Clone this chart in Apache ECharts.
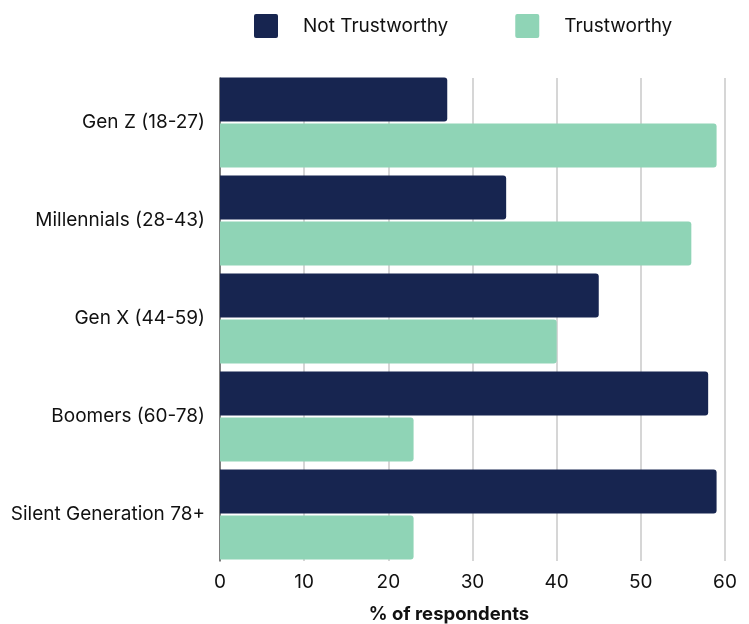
<!DOCTYPE html>
<html>
<head>
<meta charset="utf-8">
<script src="https://cdn.jsdelivr.net/npm/echarts@6/dist/echarts.min.js"></script>
<style>
  html, body { margin: 0; padding: 0; background: #ffffff; }
  #chart { width: 749px; height: 624px; }
</style>
</head>
<body>
<div id="chart"></div>
<script>
// Trust in the source, by generation (% of respondents)
const generations = ['Gen Z (18-27)', 'Millennials (28-43)', 'Gen X (44-59)', 'Boomers (60-78)', 'Silent Generation 78+'];
const notTrustworthy = [27, 34, 45, 58, 59];
const trustworthy = [59, 56, 40, 23, 23];
const xTicks = [0, 10, 20, 30, 40, 50, 60];

const NAVY = '#172550';
const MINT = '#8fd4b6';
const INK = '#111111';
const FONT = 'Inter, "Noto Sans", sans-serif';
const SQUARE = 'path://M2,0H22A2,2,0,0,1,24,2V22A2,2,0,0,1,22,24H2A2,2,0,0,1,0,22V2A2,2,0,0,1,2,0Z';

const chart = echarts.init(document.getElementById('chart'), null, { renderer: 'canvas' });

chart.setOption({
  animation: false,
  textStyle: { fontFamily: FONT },
  legend: {
    left: 249,
    top: 9,
    itemWidth: 24,
    itemHeight: 24,
    itemGap: 67,
    icon: SQUARE,
    textStyle: { fontSize: 19, color: INK, padding: [0, 0, 0, 20], fontFamily: FONT },
    data: ['Not Trustworthy', 'Trustworthy']
  },
  grid: [
    // bars: category bands sized so the outer bars sit on the frame edges
    { left: 220, right: 24, top: 73.5, height: 490, containLabel: false, outerBoundsMode: 'none' },
    // frame: gridlines, value labels and the left axis line
    { left: 220, right: 24, top: 78, height: 483, containLabel: false, outerBoundsMode: 'none' }
  ],
  xAxis: [
    {
      gridIndex: 0, type: 'value', min: 0, max: 60, interval: 10,
      show: false
    },
    {
      gridIndex: 1, type: 'value', min: 0, max: 60, interval: 10,
      axisLine: { show: false },
      axisTick: { show: false },
      splitLine: { show: true, lineStyle: { color: '#c8c8c8', width: 1.5 } },
      axisLabel: {
        color: INK, fontSize: 19, margin: 12, fontFamily: FONT,
        formatter: v => (xTicks.indexOf(v) >= 0 ? String(v) : '')
      },
      name: '% of respondents',
      nameLocation: 'middle',
      nameGap: 44,
      nameMoveOverlap: false,
      nameTextStyle: {
        fontSize: 18.5, fontWeight: 'bold', color: INK, fontFamily: FONT,
        padding: [0, 47, 0, 0]
      }
    }
  ],
  yAxis: [
    {
      gridIndex: 0, type: 'category', inverse: true, data: generations,
      axisLine: { show: false },
      axisTick: { show: false },
      axisLabel: { color: INK, fontSize: 19, margin: 15, fontFamily: FONT }
    },
    {
      gridIndex: 1, type: 'value', min: 0, max: 1,
      axisLine: { show: true, lineStyle: { color: '#5f5f5f', width: 1.5 } },
      axisTick: { show: false },
      axisLabel: { show: false },
      splitLine: { show: false }
    }
  ],
  series: [
    {
      name: 'Not Trustworthy', type: 'bar',
      xAxisIndex: 0, yAxisIndex: 0,
      data: notTrustworthy,
      barWidth: 44, barGap: '5%',
      itemStyle: { color: NAVY, borderRadius: [0, 3, 3, 0] }
    },
    {
      name: 'Trustworthy', type: 'bar',
      xAxisIndex: 0, yAxisIndex: 0,
      data: trustworthy,
      barWidth: 44, barGap: '5%',
      itemStyle: { color: MINT, borderRadius: [0, 3, 3, 0] }
    }
  ]
});
</script>
</body>
</html>
